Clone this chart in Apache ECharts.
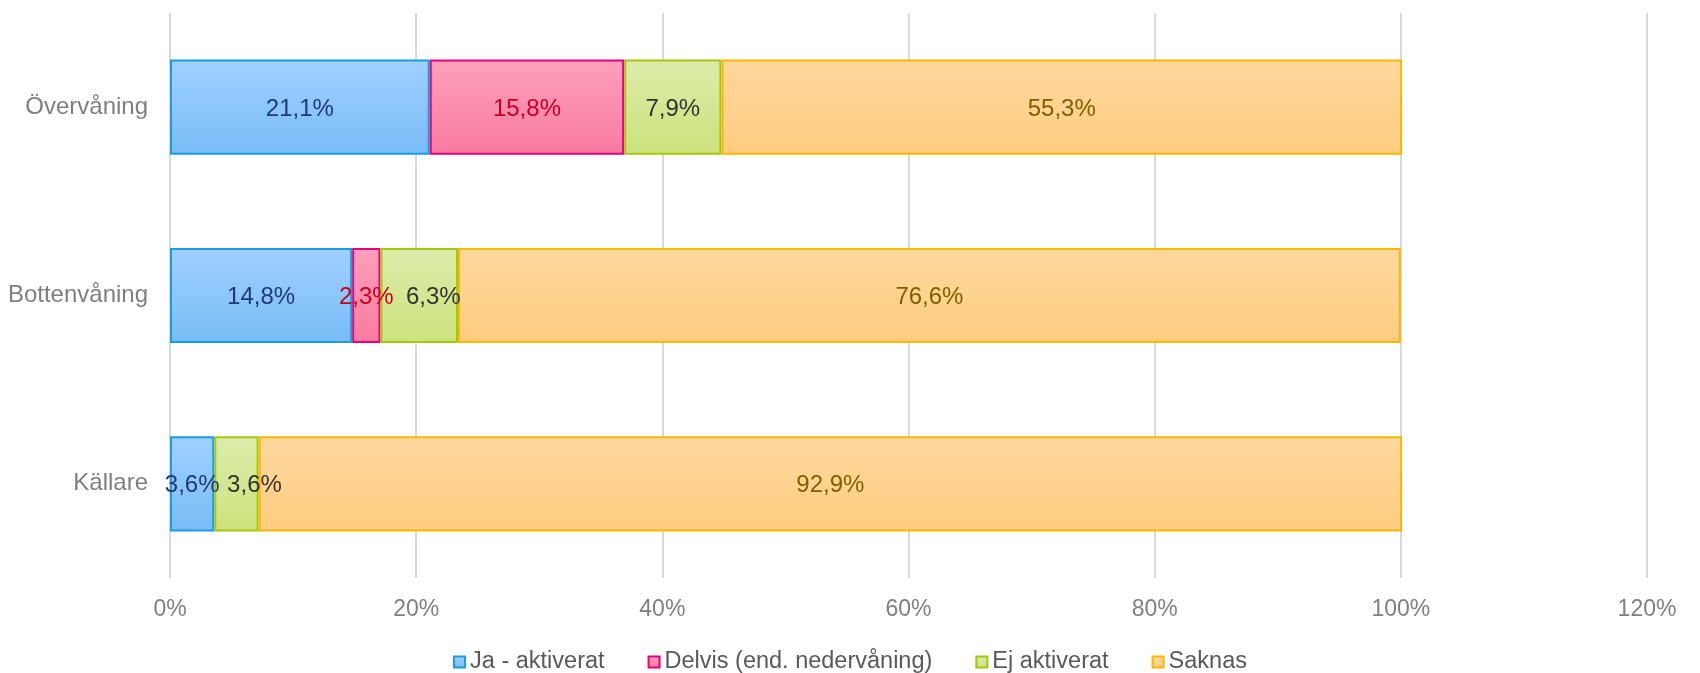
<!DOCTYPE html>
<html>

<head>
    <meta charset="UTF-8">
    <script src="https://cdn.jsdelivr.net/npm/echarts@6/dist/echarts.min.js"></script>
</head>

<body style="margin:0;background-color:#ffffff;">
    <div id="main" style="height:673px;width:1700px"></div>
    <script type="text/javascript">
        // data
        var vaningar = ['Källare', 'Bottenvåning', 'Övervåning'];
        var serieNamn = ['Ja - aktiverat', 'Delvis (end. nedervåning)', 'Ej aktiverat', 'Saknas'];
        var jaAktiverat = [3.6, 14.8, 21.1];
        var delvis = [null, 2.3, 15.8];
        var ejAktiverat = [3.6, 6.3, 7.9];
        var saknas = [92.9, 76.6, 55.3];
        var xTicks = [0, 20, 40, 60, 80, 100, 120];

        var font = 'Liberation Sans, Arial, sans-serif';

        function grad(top, bottom) {
            return {
                type: 'linear', x: 0, y: 0, x2: 0, y2: 1,
                colorStops: [{ offset: 0, color: top }, { offset: 1, color: bottom }]
            };
        }

        // 21.1 -> "21,1%"
        function fmt(p) {
            return p.value.toFixed(1).replace('.', ',') + '%';
        }

        function serie(namn, data, top, bottom, kant, textfarg) {
            return {
                name: namn,
                type: 'bar',
                stack: 'total',
                barWidth: '50.5%',
                data: data,
                itemStyle: {
                    color: grad(top, bottom),
                    borderColor: kant,
                    borderWidth: 2
                },
                label: {
                    show: true,
                    position: 'inside',
                    formatter: fmt,
                    color: textfarg,
                    fontFamily: font,
                    fontSize: 24,
                    offset: [0, 2]
                }
            };
        }

        // smala staplar: etiketten flyttas lite åt höger som i Excel
        var ejForskjut = [18, 14, 0];
        var ejData = ejAktiverat.map(function (v, i) {
            return { value: v, label: { offset: [ejForskjut[i], 2] } };
        });

        var myChart = echarts.init(document.getElementById('main'));

        var option = {
            animation: false,
            grid: {
                left: 170,
                right: 53,
                top: 13,
                bottom: 95
            },
            legend: {
                top: 645,
                left: 'center',
                data: serieNamn,
                icon: 'rect',
                itemWidth: 11,
                itemHeight: 11,
                itemGap: 43,
                textStyle: {
                    color: '#595959',
                    fontFamily: font,
                    fontSize: 23.5
                }
            },
            xAxis: {
                type: 'value',
                min: xTicks[0],
                max: xTicks[xTicks.length - 1],
                interval: 20,
                axisLine: { show: false },
                axisTick: { show: false },
                splitLine: { lineStyle: { color: '#d9d9d9', width: 2 } },
                axisLabel: {
                    formatter: '{value}%',
                    color: '#808080',
                    fontFamily: font,
                    fontSize: 23,
                    margin: 20
                }
            },
            yAxis: {
                type: 'category',
                data: vaningar,
                axisLine: { show: false },
                axisTick: { show: false },
                axisLabel: {
                    color: '#7f7f7f',
                    fontFamily: font,
                    fontSize: 24,
                    margin: 22
                }
            },
            series: [
                serie(serieNamn[0], jaAktiverat, '#a0d0ff', '#78bcf6', '#1a9de0', '#1f3a73'),
                serie(serieNamn[1], delvis, '#fca0bb', '#f97aa1', '#e6007e', '#c8001e'),
                serie(serieNamn[2], ejData, '#dcecab', '#cde27c', '#a5c80e', '#333333'),
                serie(serieNamn[3], saknas, '#ffd89e', '#ffcc80', '#f9b800', '#7f5f00')
            ]
        };

        myChart.setOption(option);
    </script>
</body>

</html>
